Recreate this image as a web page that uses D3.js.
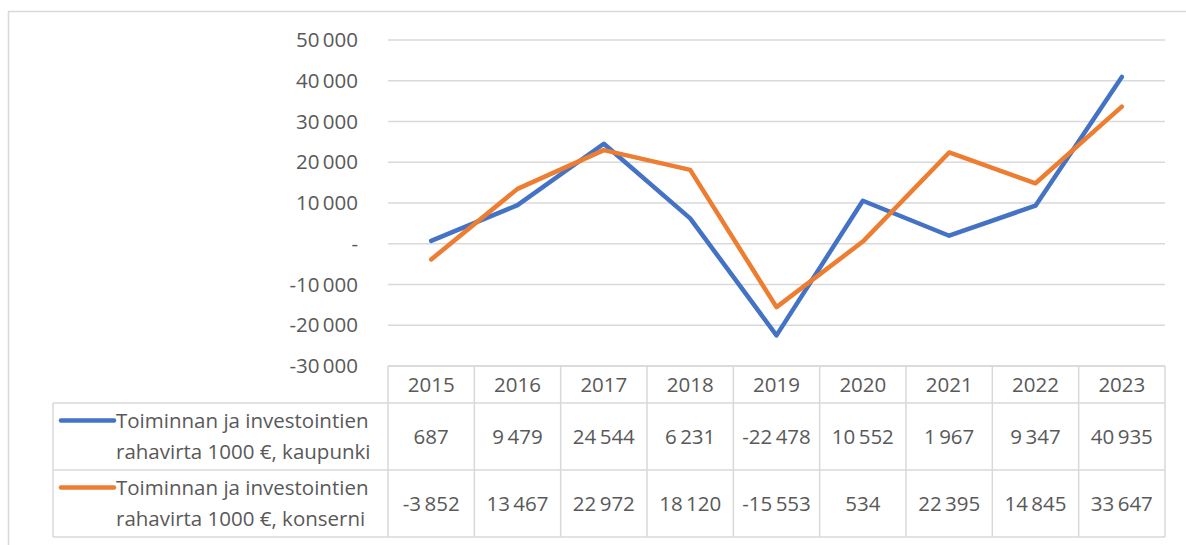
<!DOCTYPE html>
<html>
<head>
<meta charset="utf-8">
<script src="https://cdnjs.cloudflare.com/ajax/libs/d3/7.8.5/d3.min.js"></script>
<style>
  body { margin: 0; background: #fff; }
  text { font-family: "Open Sans", Lato, sans-serif; fill: #595959; }
</style>
</head>
<body>
<div id="chart"></div>
<script>
var years = ['2015','2016','2017','2018','2019','2020','2021','2022','2023'];
var kaupunki = [687, 9479, 24544, 6231, -22478, 10552, 1967, 9347, 40935];
var konserni = [-3852, 13467, 22972, 18120, -15553, 534, 22395, 14845, 33647];
var seriesNames = [
  ['Toiminnan ja investointien', 'rahavirta 1000 €, kaupunki'],
  ['Toiminnan ja investointien', 'rahavirta 1000 €, konserni']
];
var yTicks = [-30000, -20000, -10000, 0, 10000, 20000, 30000, 40000, 50000];

var W = 1186, H = 545, fs = '20.5px';
var blue = '#4472C4', orange = '#ED7D31', grid = '#D9D9D9';

var fi = d3.formatLocale({decimal: ',', thousands: '\u2009', grouping: [3], currency: ['', ' €'], minus: '-'});
var fmt = fi.format(',d');
function tickFmt(d){ return d === 0 ? '-' : fmt(d); }

var svg = d3.select('#chart').append('svg')
    .attr('width', W).attr('height', H);

// chart frame
svg.append('rect').attr('x', 8.5).attr('y', 11.5)
    .attr('width', W + 20).attr('height', H + 20)
    .attr('fill', 'none').attr('stroke', grid).attr('stroke-width', 1.5);

var x = d3.scaleBand().domain(years).range([388, 1165]);
var y = d3.scaleLinear().domain([-30000, 50000]).range([366, 40]);

// gridlines
svg.append('g').selectAll('line').data(yTicks).enter().append('line')
    .attr('x1', 388).attr('x2', 1165)
    .attr('y1', function(d){ return y(d); }).attr('y2', function(d){ return y(d); })
    .attr('stroke', grid).attr('stroke-width', 1.5);

svg.append('g').selectAll('text').data(yTicks).enter().append('text')
    .attr('x', 358).attr('y', function(d){ return y(d); })
    .attr('dy', '0.35em').attr('text-anchor', 'end')
    .style('font-size', fs)
    .text(tickFmt);

// lines
var line = d3.line()
    .x(function(d, i){ return x(years[i]) + x.bandwidth() / 2; })
    .y(function(d){ return y(d); });

[[kaupunki, blue], [konserni, orange]].forEach(function(s){
  svg.append('path').datum(s[0]).attr('d', line)
      .attr('fill', 'none').attr('stroke', s[1])
      .attr('stroke-width', 4.5).attr('stroke-linejoin', 'round')
      .attr('stroke-linecap', 'round');
});

// data table
var rowY = [366, 403, 470, 537], legX = 53;
var tbl = svg.append('g').attr('stroke', grid).attr('stroke-width', 1.5);
tbl.append('line').attr('x1', 388).attr('x2', 1165).attr('y1', rowY[0]).attr('y2', rowY[0]);
[rowY[1], rowY[2], rowY[3]].forEach(function(yy){
  tbl.append('line').attr('x1', legX).attr('x2', 1165).attr('y1', yy).attr('y2', yy);
});
tbl.append('line').attr('x1', legX).attr('x2', legX).attr('y1', rowY[1]).attr('y2', rowY[3]);
years.forEach(function(yr){
  tbl.append('line').attr('x1', x(yr)).attr('x2', x(yr)).attr('y1', rowY[0]).attr('y2', rowY[3]);
});
tbl.append('line').attr('x1', 1165).attr('x2', 1165).attr('y1', rowY[0]).attr('y2', rowY[3]);

svg.append('g').selectAll('text').data(years).enter().append('text')
    .attr('x', function(d){ return x(d) + x.bandwidth() / 2; })
    .attr('y', (rowY[0] + rowY[1]) / 2).attr('dy', '0.35em')
    .attr('text-anchor', 'middle').style('font-size', fs)
    .text(function(d){ return d; });

[[kaupunki, blue, 1], [konserni, orange, 2]].forEach(function(s, k){
  var top = rowY[s[2]], bot = rowY[s[2] + 1], mid = (top + bot) / 2;
  svg.append('g').selectAll('text').data(s[0]).enter().append('text')
      .attr('x', function(d, i){ return x(years[i]) + x.bandwidth() / 2; })
      .attr('y', mid).attr('dy', '0.35em')
      .attr('text-anchor', 'middle').style('font-size', fs)
      .text(fmt);
  svg.append('line').attr('x1', 61).attr('x2', 114)
      .attr('y1', mid - 16).attr('y2', mid - 16)
      .attr('stroke', s[1]).attr('stroke-width', 4.5).attr('stroke-linecap', 'round');
  svg.append('text').attr('x', 116).attr('y', mid - 16).attr('dy', '0.35em')
      .style('font-size', fs).text(seriesNames[k][0]);
  svg.append('text').attr('x', 116).attr('y', mid + 15).attr('dy', '0.35em')
      .style('font-size', fs).text(seriesNames[k][1]);
});
</script>
</body>
</html>
